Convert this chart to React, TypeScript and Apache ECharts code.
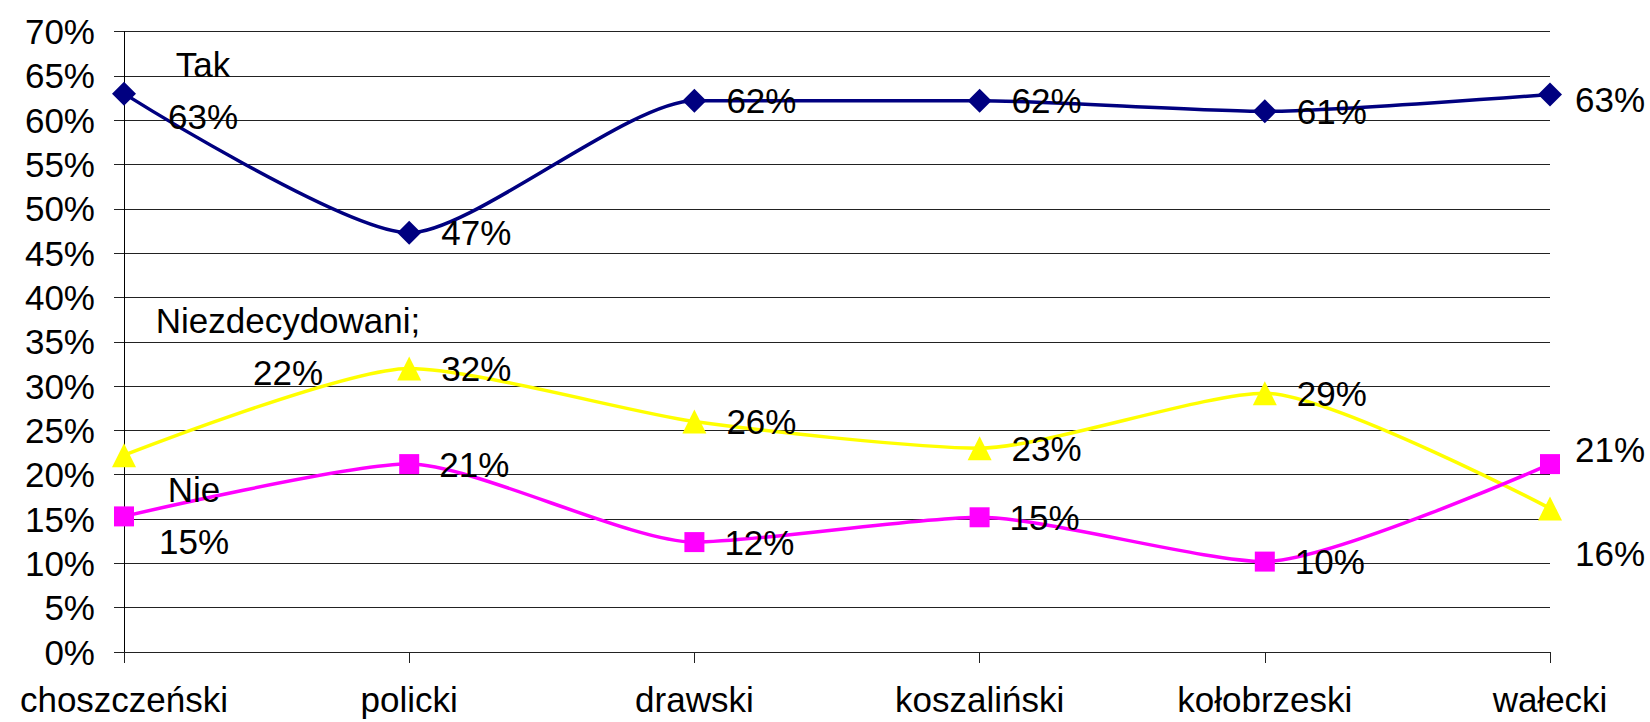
import React, { useEffect, useRef } from "react";
import * as echarts from "echarts";

const categories = ["choszczeński", "policki", "drawski", "koszaliński", "kołobrzeski", "wałecki"];
const tak = [0.63, 0.473, 0.622, 0.622, 0.61, 0.629];
const nie = [0.153, 0.212, 0.124, 0.152, 0.102, 0.212];
const niezdecydowani = [0.222, 0.32, 0.26, 0.23, 0.292, 0.162];
const seriesNames = ["Tak", "Nie", "Niezdecydowani"];
const firstLabelNames = ["Tak", "Nie", "Niezdecydowani;"];

const FONT = "'Liberation Sans', Arial, sans-serif";
const FS = 35;
const pct = (v: number) => Math.round(v * 100) + "%";

function buildSeries(
  name: string,
  firstName: string,
  values: number[],
  color: string,
  symbol: string,
  size: number,
  firstOffset: number[],
  lastOffset: number[]
) {
  return {
    type: "line",
    name,
    smooth: 0.22,
    symbol,
    symbolSize: size,
    lineStyle: { color, width: 3.5 },
    itemStyle: { color },
    label: {
      show: true,
      position: "right",
      distance: 20,
      color: "#000",
      fontSize: FS,
      fontFamily: FONT,
      formatter: (p: any) => pct(p.value),
    },
    data: values.map((v, i) => {
      if (i === 0) {
        return {
          value: v,
          label: {
            formatter: firstName + "\n" + pct(v),
            align: "center",
            lineHeight: 52,
            offset: firstOffset,
          },
        };
      }
      if (i === values.length - 1) {
        return { value: v, label: { offset: lastOffset } };
      }
      return v;
    }),
  };
}

export default function App() {
  const ref = useRef<HTMLDivElement>(null);
  useEffect(() => {
    if (!ref.current) return;
    const chart = echarts.init(ref.current, undefined, { renderer: "svg" });
    chart.setOption({
      animation: false,
      backgroundColor: "#fff",
      grid: { left: 124, right: 100, top: 31.6, bottom: 70, containLabel: false },
      xAxis: {
        type: "category",
        data: categories,
        boundaryGap: false,
        axisLine: { show: true, lineStyle: { color: "#222", width: 1 } },
        axisTick: { show: true, length: 11, alignWithLabel: true, lineStyle: { color: "#222" } },
        axisLabel: { margin: 30, fontSize: FS, fontFamily: FONT, color: "#000", interval: 0 },
        splitLine: { show: false },
      },
      yAxis: {
        type: "value",
        min: 0,
        max: 0.7,
        interval: 0.05,
        axisLine: { show: true, lineStyle: { color: "#000", width: 1 } },
        axisTick: { show: true, length: 10, lineStyle: { color: "#222" } },
        axisLabel: {
          margin: 29,
          fontSize: FS,
          fontFamily: FONT,
          color: "#000",
          formatter: (v: number) => Math.round(v * 100) + "%",
        },
        splitLine: { show: true, lineStyle: { color: "#222", width: 1 } },
      },
      series: [
        buildSeries(seriesNames[0], firstLabelNames[0], tak, "#000080", "diamond", 24, [47, -3], [-7, 5]),
        buildSeries(seriesNames[2], firstLabelNames[2], niezdecydowani, "#FFFF00", "triangle", 24, [132, -109], [-7, 45]),
        buildSeries(seriesNames[1], firstLabelNames[1], nie, "#FF00FF", "rect", 20, [40, -1], [-5, -15]),
      ],
    });
    return () => chart.dispose();
  }, []);
  return (
    <div
      ref={ref}
      style={{ position: "absolute", left: 0, top: 0, width: 1650, height: 722 }}
    />
  );
}
